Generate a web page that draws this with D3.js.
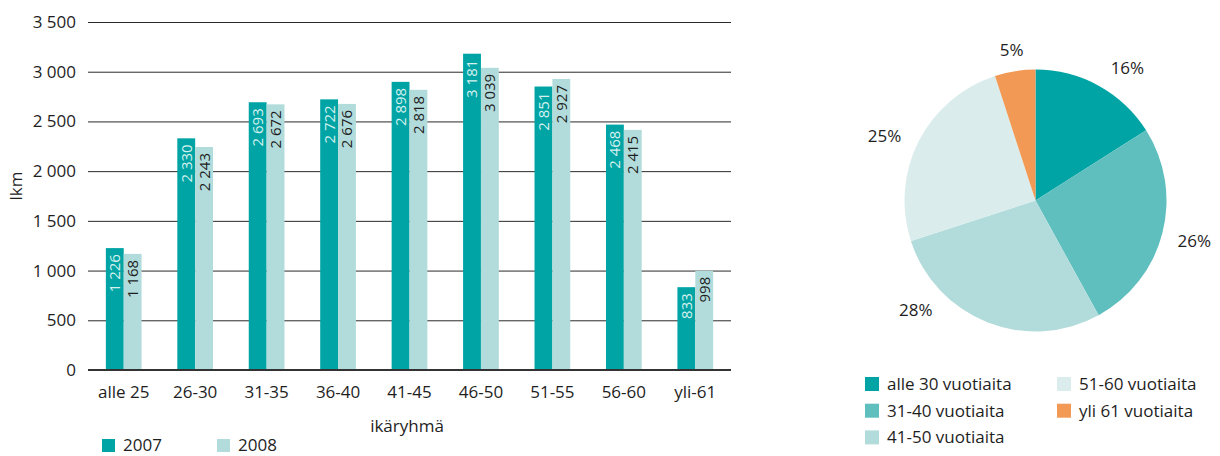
<!DOCTYPE html>
<html>
<head>
<meta charset="utf-8">
<script src="https://cdn.jsdelivr.net/npm/d3@7/dist/d3.min.js"></script>
<style>
  html, body { margin: 0; padding: 0; background: #fff; }
  svg { display: block; font-family: "Open Sans", "Noto Sans", sans-serif; }
</style>
</head>
<body>
<svg id="chart" width="1220" height="456"></svg>
<script>
// Age groups and counts per year
const ageGroups = ["alle 25", "26-30", "31-35", "36-40", "41-45", "46-50", "51-55", "56-60", "yli-61"];
const years = ["2007", "2008"];
const values2007 = [1226, 2330, 2693, 2722, 2898, 3181, 2851, 2468, 833];
const values2008 = [1168, 2243, 2672, 2676, 2818, 3039, 2927, 2415, 998];
const yTicks = [0, 500, 1000, 1500, 2000, 2500, 3000, 3500];

// Share by age band (percent)
const pieCategories = ["alle 30 vuotiaita", "31-40 vuotiaita", "41-50 vuotiaita", "51-60 vuotiaita", "yli 61 vuotiaita"];
const pieValues = [16, 26, 28, 25, 5];

const barColors = { "2007": "#00a4a4", "2008": "#b2dcdb" };
const pieColors = ["#00a4a4", "#5fbebe", "#b2dcdb", "#daedec", "#f29a55"];
const textColor = "#1e1e1e";

const fi = d3.formatLocale({ decimal: ",", thousands: " ", grouping: [3], currency: ["", " €"] });
const fmt = fi.format(",");

const svg = d3.select("#chart");

// ---- Grouped bar chart ----
const plotLeft = 88, plotRight = 731, plotTop = 22, plotBottom = 370;
const y = d3.scaleLinear().domain([0, 3500]).range([plotBottom, plotTop]);
const x0 = d3.scaleBand().domain(ageGroups).range([plotLeft, plotRight]).paddingInner(0.5).paddingOuter(0.25);
const x1 = d3.scaleBand().domain(years).range([0, x0.bandwidth()]);

const yAxis = svg.append("g")
  .attr("transform", `translate(${plotLeft},0)`)
  .call(d3.axisLeft(y).tickValues(yTicks).tickFormat(fmt).tickSize(-(plotRight - plotLeft)).tickPadding(12));
yAxis.select(".domain").remove();
yAxis.selectAll(".tick line").attr("stroke", "#2a2a2a").attr("stroke-width", 1);
yAxis.selectAll(".tick text").attr("fill", textColor).style("font-size", "17px").style("font-family", "Open Sans");

const rows = ageGroups.map((g, i) => ({ group: g, vals: [
  { year: "2007", value: values2007[i] },
  { year: "2008", value: values2008[i] }
]}));

const groups = svg.append("g").selectAll("g").data(rows).join("g")
  .attr("transform", d => `translate(${x0(d.group)},0)`);

groups.selectAll("rect").data(d => d.vals).join("rect")
  .attr("x", d => x1(d.year))
  .attr("width", x1.bandwidth())
  .attr("y", d => y(d.value))
  .attr("height", d => y(0) - y(d.value))
  .attr("fill", d => barColors[d.year]);

groups.selectAll("text").data(d => d.vals).join("text")
  .attr("transform", d => `translate(${x1(d.year) + x1.bandwidth() / 2},${y(d.value) + 6}) rotate(-90)`)
  .attr("text-anchor", "end")
  .attr("dy", "0.36em")
  .attr("fill", d => d.year === "2007" ? "#d6f1ef" : "#1e1e1e")
  .style("font-size", "15px")
  .text(d => fmt(d.value));

// baseline
svg.append("line")
  .attr("x1", plotLeft).attr("x2", plotRight)
  .attr("y1", y(0)).attr("y2", y(0))
  .attr("stroke", "#333").attr("stroke-width", 2);

// category labels
svg.append("g").selectAll("text").data(ageGroups).join("text")
  .attr("x", d => x0(d) + x0.bandwidth() / 2)
  .attr("y", 392)
  .attr("dy", "0.35em")
  .attr("text-anchor", "middle")
  .attr("fill", textColor)
  .style("font-size", "17px")
  .text(d => d);

// axis titles
svg.append("text")
  .attr("transform", "translate(16,186) rotate(-90)")
  .attr("text-anchor", "middle").attr("dy", "0.35em")
  .attr("fill", textColor).style("font-size", "17px")
  .text("lkm");

svg.append("text")
  .attr("x", 407).attr("y", 426).attr("dy", "0.35em")
  .attr("text-anchor", "middle")
  .attr("fill", textColor).style("font-size", "17px")
  .text("ikäryhmä");

// year legend
const yearLegend = svg.append("g").selectAll("g").data(years).join("g")
  .attr("transform", (d, i) => `translate(${102 + i * 115},439)`);
yearLegend.append("rect").attr("width", 13).attr("height", 13).attr("fill", d => barColors[d]);
yearLegend.append("text").attr("x", 21).attr("y", 6.5).attr("dy", "0.35em")
  .attr("fill", textColor).style("font-size", "17px").text(d => d);

// ---- Pie chart ----
const cx = 1035.5, cy = 200.5, radius = 131;
const pie = d3.pie().sort(null).value(d => d)(pieValues);
const arc = d3.arc().innerRadius(0).outerRadius(radius);

const pieG = svg.append("g").attr("transform", `translate(${cx},${cy})`);
pieG.selectAll("path").data(pie).join("path")
  .attr("d", arc)
  .attr("fill", (d, i) => pieColors[i]);

// label placement tweaks (angle in degrees, radius in px)
const labelNudge = [
  { da: 6, r: 161 },
  { da: 0, r: 164 },
  { da: 26, r: 162 },
  { da: -4, r: 164 },
  { da: 0, r: 152 }
];
pieG.selectAll("text").data(pie).join("text")
  .attr("transform", (d, i) => {
    const a = (d.startAngle + d.endAngle) / 2 + labelNudge[i].da * Math.PI / 180;
    const r = labelNudge[i].r;
    return `translate(${r * Math.sin(a)},${-r * Math.cos(a)})`;
  })
  .attr("text-anchor", "middle").attr("dy", "0.35em")
  .attr("fill", textColor).style("font-size", "17px")
  .text(d => d.value + "%");

// pie legend: two columns
const legendPos = pieCategories.map((c, i) => ({
  name: c, i,
  col: i < 3 ? 0 : 1,
  row: i < 3 ? i : i - 3
}));
const pl = svg.append("g").selectAll("g").data(legendPos).join("g")
  .attr("transform", d => `translate(${865 + d.col * 192},${377 + d.row * 26.7})`);
pl.append("rect").attr("width", 14).attr("height", 14).attr("fill", d => pieColors[d.i]);
pl.append("text").attr("x", 22).attr("y", 7).attr("dy", "0.35em")
  .attr("fill", textColor).style("font-size", "17px").text(d => d.name);
</script>
</body>
</html>
